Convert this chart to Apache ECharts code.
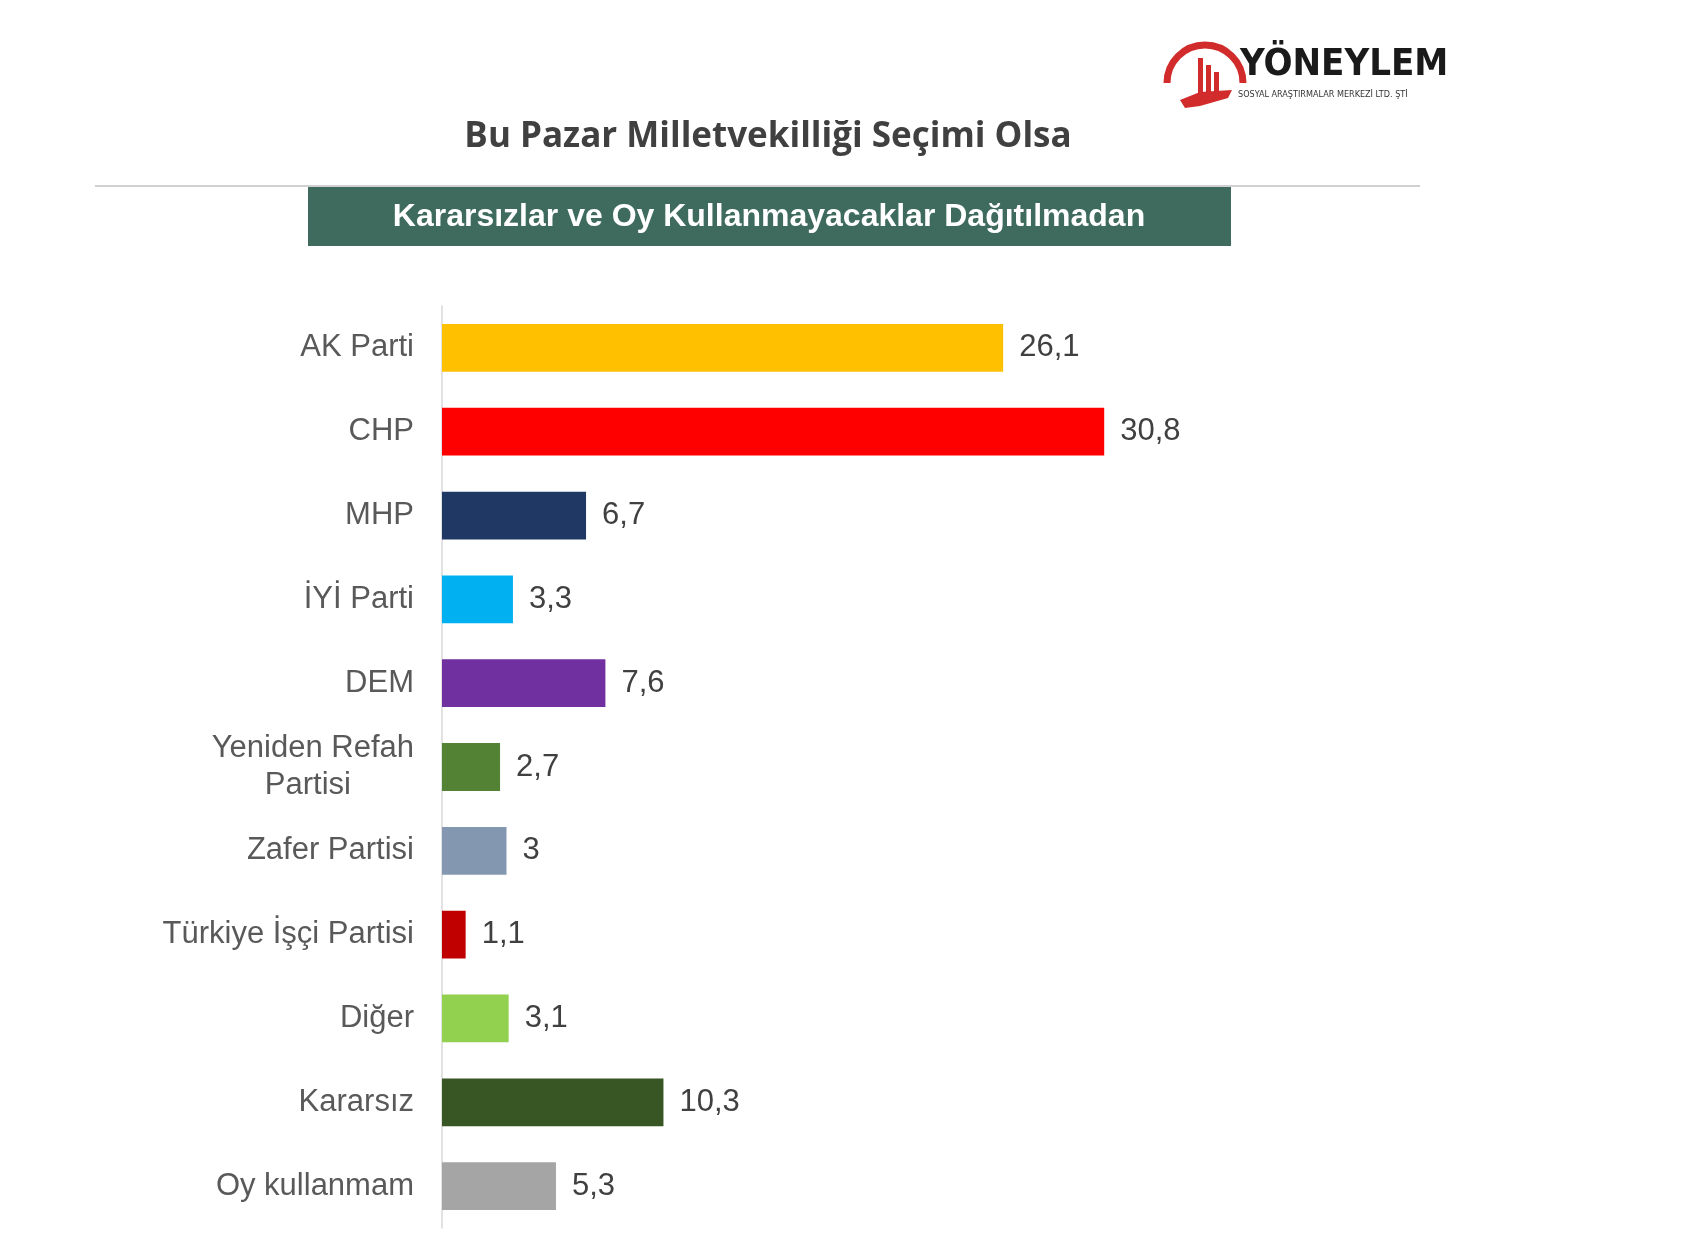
<!DOCTYPE html>
<html><head><meta charset="utf-8">
<script src="https://cdn.jsdelivr.net/npm/echarts@6/dist/echarts.min.js"></script>
<style>html,body{margin:0;background:#fff}#c{width:1700px;height:1248px}</style>
</head><body><div id="c"></div>
<script>
const categories = ["AK Parti","CHP","MHP","İYİ Parti","DEM","Yeniden Refah\nPartisi","Zafer Partisi","Türkiye İşçi Partisi","Diğer","Kararsız","Oy kullanmam"];
const values = [26.1,30.8,6.7,3.3,7.6,2.7,3,1.1,3.1,10.3,5.3];
const colors = ["#FFC000","#FF0000","#1F3864","#00B0F0","#7030A0","#548235","#8497B0","#C00000","#92D050","#375623","#A5A5A5"];

const chart = echarts.init(document.getElementById('c'));
chart.setOption({
  animation:false,
  grid:{left:442,right:398,top:306,bottom:20},
  xAxis:{type:'value',min:0,max:40,show:false},
  yAxis:{type:'category',data:categories,inverse:true,
    axisLine:{lineStyle:{color:'#d9d9d9',width:1.5}},axisTick:{show:false},
    axisLabel:{margin:28,fontSize:31,color:'#595959',fontFamily:'Liberation Sans',align:'right',lineHeight:37,
      formatter:v=>v.indexOf('\n')>=0?'{a|Yeniden Refah}\n{b|Partisi}':v,
      rich:{a:{fontSize:31,color:'#595959',fontFamily:'Liberation Sans',lineHeight:37},
            b:{fontSize:31,color:'#595959',fontFamily:'Liberation Sans',lineHeight:37,padding:[0,63,0,0]}}}},
  series:[{type:'bar',barCategoryGap:'43%',
    data:values.map((v,i)=>({value:v,itemStyle:{color:colors[i]}})),
    label:{show:true,position:'right',distance:16,fontSize:31,color:'#404040',fontFamily:'Liberation Sans',
      formatter:p=>String(p.value).replace('.',',')}}],
  graphic:[
    {type:'text',x:768,y:120,style:{text:'Bu Pazar Milletvekilliği Seçimi Olsa',font:'bold 35px "Open Sans"',fill:'#404040',textAlign:'center'}},
    {type:'line',shape:{x1:95,y1:186,x2:1420,y2:186},style:{stroke:'#d0d0d0',lineWidth:2}},
    {type:'rect',shape:{x:308,y:187,width:923,height:59},style:{fill:'#3F6B5E'}},
    {type:'text',x:769,y:217,style:{text:'Kararsızlar ve Oy Kullanmayacaklar Dağıtılmadan',font:'bold 32px "Liberation Sans"',fill:'#fff',textAlign:'center',textVerticalAlign:'middle'}},
    {type:'arc',shape:{cx:1205,cy:83,r:38,startAngle:Math.PI,endAngle:2*Math.PI},style:{stroke:'#D12B2B',lineWidth:7,fill:null}},
    {type:'rect',shape:{x:1198,y:58,width:5,height:35},style:{fill:'#D12B2B'}},
    {type:'rect',shape:{x:1206,y:65,width:5,height:28},style:{fill:'#D12B2B'}},
    {type:'rect',shape:{x:1214,y:72,width:5,height:21},style:{fill:'#D12B2B'}},
    {type:'polygon',shape:{points:[[1180,100],[1200,92],[1232,90],[1228,98],[1200,106],[1185,108]]},style:{fill:'#D12B2B'}},
    {type:'text',x:1240,y:46,style:{text:'YÖNEYLEM',font:'bold 38px "DejaVu Sans Condensed"',fill:'#1a1a1a'}},
    {type:'text',x:1238,y:90,style:{text:'SOSYAL ARAŞTIRMALAR MERKEZİ LTD. ŞTİ',font:'9px "DejaVu Sans Condensed"',fill:'#333'}}
  ]
});
</script></body></html>
